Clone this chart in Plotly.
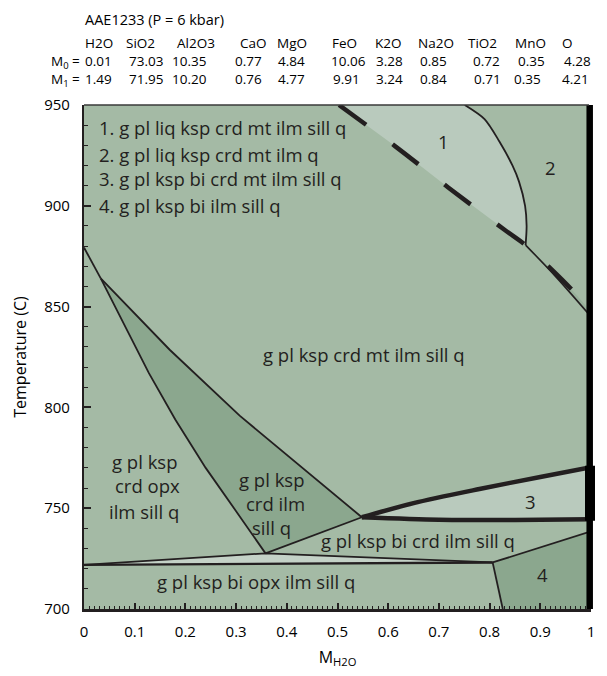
import plotly.graph_objects as go

# ---------------- data ----------------
sample_title = "AAE1233 (P = 6 kbar)"
oxides = ["H2O", "SiO2", "Al2O3", "CaO", "MgO", "FeO", "K2O", "Na2O", "TiO2", "MnO", "O"]
M0 = ["0.01", "73.03", "10.35", "0.77", "4.84", "10.06", "3.28", "0.85", "0.72", "0.35", "4.28"]
M1 = ["1.49", "71.95", "10.20", "0.76", "4.77", "9.91", "3.24", "0.84", "0.71", "0.35", "4.21"]

# phase boundaries: (M_H2O, T in C)
apex_x = [0.0, 0.033]
apex_T = [879.3, 864.0]
left_x = [0.033, 0.080, 0.128, 0.180, 0.240, 0.300, 0.358]
left_T = [864.0, 840.5, 817.0, 794.0, 770.0, 748.5, 727.6]
right_x = [0.033, 0.169, 0.307, 0.548]
right_T = [864.0, 828.6, 795.9, 745.5]
mid_x = [0.358, 0.548]
mid_T = [727.6, 745.5]
sliver_top_x = [0.0, 0.358, 0.806]
sliver_top_T = [721.9, 727.6, 723.1]
base_x = [0.0, 0.806]
base_T = [721.9, 723.1]
r4_top_x = [0.806, 1.0]
r4_top_T = [723.1, 738.5]
r4_left_x = [0.806, 0.826]
r4_left_T = [723.1, 700.0]
r3_up_x = [0.548, 0.65, 0.78, 0.90, 1.0]
r3_up_T = [745.5, 752.5, 759.5, 765.5, 770.3]
r3_lo_x = [0.548, 0.70, 0.85, 1.0]
r3_lo_T = [745.5, 744.3, 744.2, 744.5]
dash_x = [0.503, 0.614, 0.719, 0.830, 0.871, 0.916, 0.960, 1.0]
dash_T = [950.0, 929.5, 909.0, 888.0, 880.5, 870.0, 859.0, 847.5]
arc_x = [0.751, 0.790, 0.819, 0.845, 0.858, 0.870, 0.873, 0.871]
arc_T = [950.0, 943.0, 932.0, 920.0, 912.0, 900.0, 890.0, 880.5]
thin_x = [0.871, 0.930, 1.0]
thin_T = [880.5, 865.0, 845.0]

field_list = ["1. g pl liq ksp crd mt ilm sill q",
              "2. g pl liq ksp crd mt ilm q",
              "3. g pl ksp bi crd mt ilm sill q",
              "4. g pl ksp bi ilm sill q"]
field_list_T = [938.6, 925.6, 913.4, 900.3]

labels = [  # text, x, T
    ("g pl ksp crd mt ilm sill q", 0.553, 826.2),
    ("g pl ksp", 0.120, 773.0), ("crd opx", 0.126, 761.3), ("ilm sill q", 0.118, 748.6),
    ("g pl ksp", 0.371, 764.1), ("crd ilm", 0.377, 752.4), ("sill q", 0.370, 740.6),
    ("g pl ksp bi crd ilm sill q", 0.659, 734.2),
    ("g pl ksp bi opx ilm sill q", 0.340, 713.6),
    ("1", 0.709, 932.0), ("2", 0.921, 919.0), ("3", 0.881, 753.2), ("4", 0.904, 717.0),
]

# ---------------- styles / layout ----------------
W, H = 607, 676
ML, MR, MT, MB = 84, 15, 105, 60
PW, PH = W - ML - MR, H - MT - MB
FONT = "Open Sans"
INK = "#231f20"
C_MAIN = "#a4baa5"
C_DARK = "#8ba78e"
C_LIGHT = "#b9cabd"
C_SLIVER = "#c4d2c7"
C_EDGE = "#97b09a"

def px_x(px):
    return (px - ML) / PW

def px_y(py):
    return 1 - (py - MT) / PH

def ty(T):
    return (T - 700) / 250.0

fig = go.Figure()

def fill(xs, ys, color, shape="linear"):
    fig.add_trace(go.Scatter(x=xs, y=ys, mode="lines", fill="toself", fillcolor=color,
                             line=dict(width=0, shape=shape), hoverinfo="skip", showlegend=False))

def line(xs, ys, width=1.8, dash="solid", shape="linear"):
    fig.add_trace(go.Scatter(x=xs, y=ys, mode="lines",
                             line=dict(color=INK, width=width, dash=dash, shape=shape, smoothing=0.8),
                             hoverinfo="skip", showlegend=False))

# fills
fill(left_x + right_x[::-1], left_T + right_T[::-1], C_DARK)
fill(sliver_top_x + base_x[::-1], sliver_top_T + base_T[::-1], C_SLIVER)
fill(r4_top_x + [1.0] + r4_left_x[::-1], r4_top_T + [700.0] + r4_left_T[::-1], C_DARK)
fill(r3_up_x + r3_lo_x[::-1], r3_up_T + r3_lo_T[::-1], C_LIGHT)
fill(dash_x[:5] + arc_x[::-1] + [arc_x[0], dash_x[0]],
     dash_T[:5] + arc_T[::-1] + [960, 960], C_LIGHT)
fill(dash_x[4:] + thin_x[::-1], dash_T[4:] + thin_T[::-1], C_EDGE)

# boundaries
line(apex_x, apex_T)
line(left_x, left_T)
line(right_x, right_T)
line(mid_x, mid_T)
line(sliver_top_x, sliver_top_T)
line(base_x, base_T, width=2.4)
line(r4_top_x, r4_top_T)
line(r4_left_x, r4_left_T)
line(r3_up_x, r3_up_T, width=4.5, shape="spline")
line(r3_lo_x, r3_lo_T, width=4.5, shape="spline")
line(arc_x, arc_T, width=1.8, shape="spline")
line(thin_x, thin_T, width=1.6, shape="spline")
line(dash_x, dash_T, width=4.5, dash="33px,33px", shape="spline")

shapes = [
    # bold right edge
    dict(type="line", xref="paper", yref="paper", x0=px_x(590.7), x1=px_x(590.7), y0=0, y1=1,
         line=dict(color="black", width=6.5)),
    # top border
    dict(type="line", xref="paper", yref="paper", x0=0, x1=px_x(590), y0=1, y1=1,
         line=dict(color="#3a3a3a", width=1.6)),
    # small box at right of field 3
    dict(type="rect", xref="paper", yref="paper", x0=px_x(587.5), x1=px_x(594.5),
         y0=ty(r3_lo_T[-1]), y1=ty(r3_up_T[-1]), line=dict(color="black", width=3)),
]

ann = []
# header table
ann.append(dict(text=sample_title, x=px_x(83.3), y=px_y(18.3), font=dict(family=FONT, size=14.5, color="black")))
hdr_px = [83.3, 124.3, 175.0, 238.3, 275.0, 330.0, 373.3, 416.7, 466.7, 514.0, 560.7]
m0_px = [83.3, 126.7, 170.0, 233.3, 276.7, 329.3, 375.0, 418.3, 471.7, 516.7, 563.3]
m1_px = [83.3, 126.7, 170.0, 233.3, 276.7, 331.7, 375.0, 418.3, 472.7, 513.3, 560.7]
for name, p in zip(oxides, hdr_px):
    ann.append(dict(text=name, x=px_x(p), y=px_y(41.7)))
for v, p in zip(M0, m0_px):
    ann.append(dict(text=v, x=px_x(p), y=px_y(60.7)))
for v, p in zip(M1, m1_px):
    ann.append(dict(text=v, x=px_x(p), y=px_y(79.0)))
ann.append(dict(text="M<sub>0</sub> =", x=px_x(82), y=px_y(61.5), xanchor="right"))
ann.append(dict(text="M<sub>1</sub> =", x=px_x(82), y=px_y(79.8), xanchor="right"))
for a in ann:
    a.update(xref="paper", yref="paper", showarrow=False, yanchor="middle")
    a.setdefault("font", dict(family=FONT, size=13.5, color="black"))
    a.setdefault("xanchor", "left")

plot_ann = []
for t, T in zip(field_list, field_list_T):
    plot_ann.append(dict(text=t, x=px_x(96.7), y=T, xref="paper", yref="y", xanchor="left"))
for t, x, T in labels:
    plot_ann.append(dict(text=t, x=x, y=T, xref="x", yref="y", xanchor="center"))
for a in plot_ann:
    a.update(showarrow=False, yanchor="middle", font=dict(family=FONT, size=18.5, color=INK))

fig.update_layout(
    width=W, height=H,
    margin=dict(l=ML, r=MR, t=MT, b=MB, pad=0),
    paper_bgcolor="white", plot_bgcolor=C_MAIN,
    showlegend=False,
    shapes=shapes,
    annotations=ann + plot_ann,
    font=dict(family=FONT, size=14, color="black"),
    xaxis=dict(range=[0, 1],
               tickvals=[0, 0.1, 0.2, 0.3, 0.4, 0.5, 0.6, 0.7, 0.8, 0.9, 1.0],
               ticktext=["0", "0.1", "0.2", "0.3", "0.4", "0.5", "0.6", "0.7", "0.8", "0.9", "1"],
               ticks="inside", ticklen=6, tickwidth=1.5, tickcolor=INK,
               minor=dict(dtick=0.01, tick0=0, ticks="inside", ticklen=3, tickwidth=1, tickcolor=INK),
               showline=True, linecolor=INK, linewidth=3, mirror=False,
               showgrid=False, zeroline=False, ticklabelstandoff=7,
               tickfont=dict(family=FONT, size=15, color="black"),
               title=dict(text="M<sub>H2O</sub>", font=dict(family=FONT, size=16, color="black"), standoff=12)),
    yaxis=dict(range=[700, 950], tickmode="linear", tick0=700, dtick=50,
               ticks="inside", ticklen=7, tickwidth=1.5, tickcolor=INK,
               minor=dict(dtick=10, tick0=700, ticks="inside", ticklen=4, tickwidth=1, tickcolor=INK),
               showline=True, linecolor=INK, linewidth=2.2, mirror=False,
               showgrid=False, zeroline=False, ticklabelstandoff=9,
               tickfont=dict(family=FONT, size=15, color="black"),
               title=dict(text="Temperature (C)", font=dict(family=FONT, size=16, color="black"), standoff=14)),
)

fig.write_html("out.html")
